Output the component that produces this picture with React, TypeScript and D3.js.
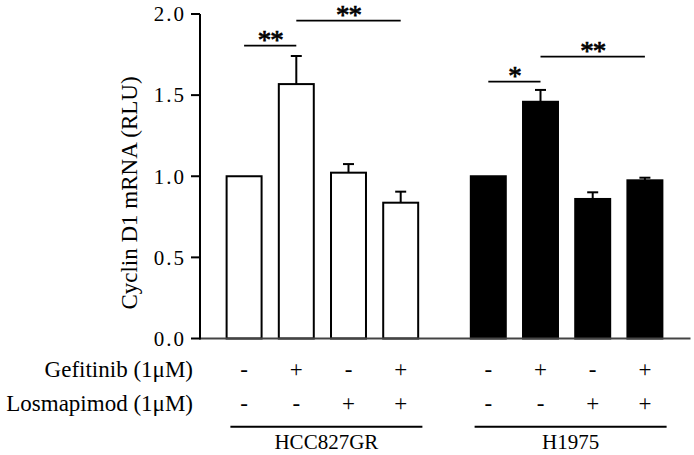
import React from 'react';
import * as d3 from 'd3';

// values
const groups = ['HCC827GR', 'H1975'];
const conditions = ['ctrl', 'gef', 'los', 'gefLos'];
const gefitinibSigns = ['-', '+', '-', '+'];
const losmapimodSigns = ['-', '-', '+', '+'];
const hccMeans = [1.0, 1.568, 1.022, 0.837];
const hccErrors = [0, 0.173, 0.053, 0.068];
const h1975Means = [1.0, 1.459, 0.86, 0.975];
const h1975Errors = [0, 0.073, 0.041, 0.016];
const yTicks = [0, 0.5, 1.0, 1.5, 2.0];

// significance brackets: group, from, to, level (RLU), label
const sigGroups = ['HCC827GR', 'HCC827GR', 'H1975', 'H1975'];
const sigFrom = ['ctrl', 'gef', 'ctrl', 'gef'];
const sigTo = ['gef', 'gefLos', 'gef', 'gefLos'];
const sigLevels = [1.805, 1.959, 1.583, 1.737];
const sigLabels = ['**', '**', '*', '**'];

const W = 694;
const H = 455;
const FONT = '"Liberation Serif", "Times New Roman", serif';

const App: React.FC = () => {
    const yScale = d3.scaleLinear().domain([0, 2]).range([338.5, 14]);

    const xGroup = d3.scaleBand<string>()
        .domain(groups)
        .range([218, 671])
        .paddingInner(0.145)
        .paddingOuter(0);

    const xInner = d3.scaleBand<string>()
        .domain(conditions)
        .range([0, xGroup.bandwidth()])
        .paddingInner(0.33)
        .paddingOuter(0.165);

    const seriesMeans: Record<string, number[]> = { 'HCC827GR': hccMeans, 'H1975': h1975Means };
    const seriesErrors: Record<string, number[]> = { 'HCC827GR': hccErrors, 'H1975': h1975Errors };
    const seriesFill: Record<string, string> = { 'HCC827GR': '#ffffff', 'H1975': '#000000' };

    const centerOf = (g: string, c: string) => (xGroup(g) || 0) + (xInner(c) || 0) + xInner.bandwidth() / 2;
    const y0 = yScale(0);
    const axisX = 200;

    return (
        <svg width={W} height={H} style={{ position: 'absolute', left: 0, top: 0, background: '#fff' }} fontFamily={FONT}>
            {/* bars */}
            {groups.map(g => conditions.map((c, i) => {
                const x = (xGroup(g) || 0) + (xInner(c) || 0);
                const v = seriesMeans[g][i];
                const e = seriesErrors[g][i];
                const cx = x + xInner.bandwidth() / 2;
                return (
                    <g key={g + c}>
                        {e > 0 && (
                            <g stroke="#000" strokeWidth={2}>
                                <line x1={cx} x2={cx} y1={yScale(v)} y2={yScale(v + e)} />
                                <line x1={cx - 5.5} x2={cx + 5.5} y1={yScale(v + e)} y2={yScale(v + e)} />
                            </g>
                        )}
                        <rect x={x} y={yScale(v)} width={xInner.bandwidth()} height={y0 - yScale(v)}
                            fill={seriesFill[g]} stroke="#000" strokeWidth={2} />
                    </g>
                );
            }))}

            {/* x baseline */}
            <line x1={axisX} x2={690.5} y1={y0} y2={y0} stroke="#444" strokeWidth={2} />

            {/* y axis */}
            <line x1={axisX} x2={axisX} y1={yScale(2)} y2={y0 + 1} stroke="#000" strokeWidth={2} />
            {yTicks.map(t => (
                <g key={t}>
                    <line x1={axisX - 9} x2={axisX} y1={yScale(t)} y2={yScale(t)} stroke="#000" strokeWidth={2} />
                    <text x={186} y={yScale(t)} dy="0.35em" textAnchor="end" fontSize={21} letterSpacing={2}>
                        {d3.format('.1f')(t)}
                    </text>
                </g>
            ))}
            <text transform={`translate(137, 193) rotate(-90)`} textAnchor="middle" fontSize={23}>
                Cyclin D1 mRNA (RLU)
            </text>

            {/* significance */}
            {sigLabels.map((lab, i) => {
                const xa = centerOf(sigGroups[i], sigFrom[i]);
                const xb = centerOf(sigGroups[i], sigTo[i]);
                const ly = yScale(sigLevels[i]);
                return (
                    <g key={i}>
                        <line x1={xa} x2={xb} y1={ly} y2={ly} stroke="#000" strokeWidth={1.8} />
                        <text x={(xa + xb) / 2} y={ly + 3} textAnchor="middle" fontSize={27}
                            stroke="#000" strokeWidth={0.7} letterSpacing={-1}>{lab}</text>
                    </g>
                );
            })}

            {/* treatment rows */}
            <text x={193} y={377} textAnchor="end" fontSize={23}>Gefitinib (1μM)</text>
            <text x={193} y={411} textAnchor="end" fontSize={23}>Losmapimod (1μM)</text>
            {groups.map(g => conditions.map((c, i) => (
                <g key={'s' + g + c}>
                    <text x={centerOf(g, c)} y={377} textAnchor="middle" fontSize={23}>{gefitinibSigns[i]}</text>
                    <text x={centerOf(g, c)} y={411} textAnchor="middle" fontSize={23}>{losmapimodSigns[i]}</text>
                </g>
            )))}

            {/* group labels */}
            {groups.map(g => {
                const gc = (xGroup(g) || 0) + xGroup.bandwidth() / 2 + 4;
                return (
                    <g key={'gl' + g}>
                        <line x1={gc - 96} x2={gc + 96} y1={426.7} y2={426.7} stroke="#000" strokeWidth={2} />
                        <text x={gc} y={449} textAnchor="middle" fontSize={21}>{g}</text>
                    </g>
                );
            })}
        </svg>
    );
};

export default App;
